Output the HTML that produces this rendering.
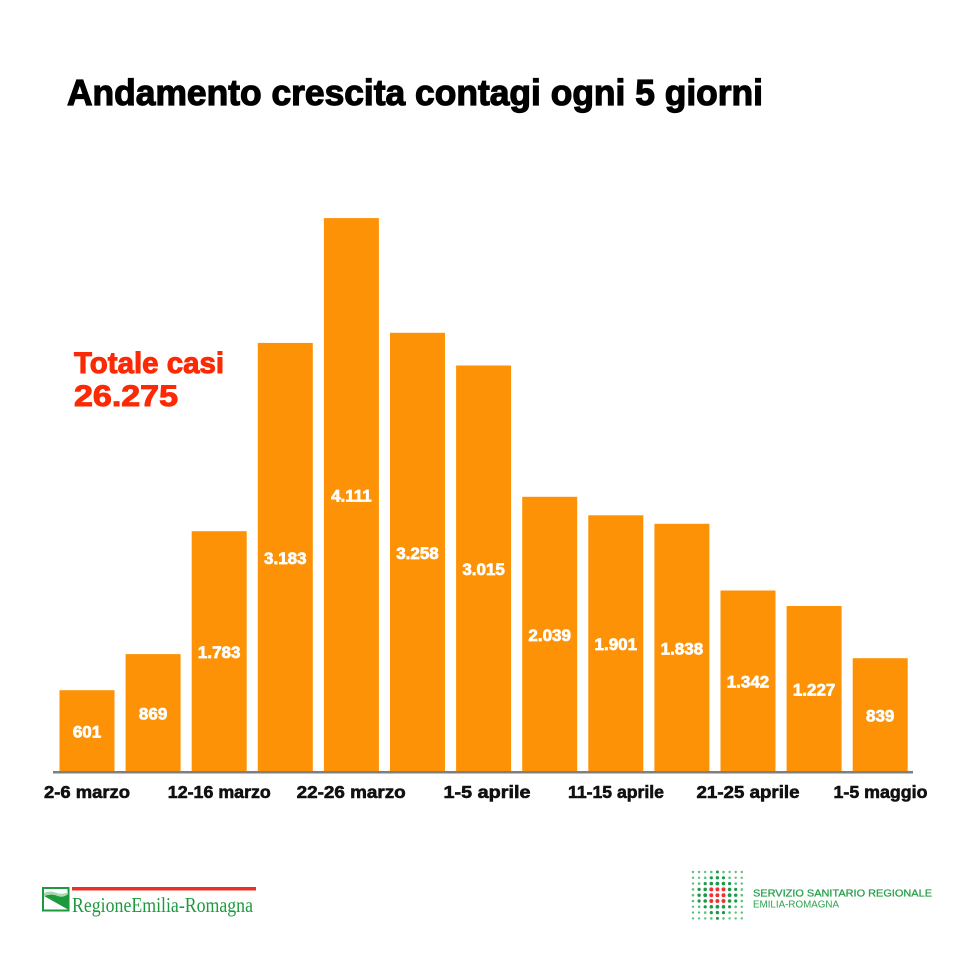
<!DOCTYPE html>
<html><head><meta charset="utf-8"><style>
html,body{margin:0;padding:0;background:#fff;}
svg{display:block;}
</style></head><body>
<svg width="960" height="960" viewBox="0 0 960 960" xmlns="http://www.w3.org/2000/svg">
<rect width="960" height="960" fill="#fff"/>
<text x="67" y="105" font-family="Liberation Sans, sans-serif" font-weight="bold" font-size="36" fill="#000" stroke="#000" stroke-width="1.2" textLength="696" lengthAdjust="spacingAndGlyphs">Andamento crescita contagi ogni 5 giorni</text>
<text x="74" y="373" font-family="Liberation Sans, sans-serif" font-weight="bold" font-size="30" fill="#fb2a05" stroke="#fb2a05" stroke-width="1" textLength="150" lengthAdjust="spacingAndGlyphs">Totale casi</text>
<text x="74" y="406" font-family="Liberation Sans, sans-serif" font-weight="bold" font-size="30" fill="#fb2a05" stroke="#fb2a05" stroke-width="1" textLength="104" lengthAdjust="spacingAndGlyphs">26.275</text>
<g fill="#fd9206">
<rect x="59.5" y="690.2" width="55" height="81.8"/>
<rect x="125.6" y="654.1" width="55" height="117.9"/>
<rect x="191.7" y="531.2" width="55" height="240.8"/>
<rect x="257.8" y="342.9" width="55" height="429.1"/>
<rect x="323.9" y="218.1" width="55" height="553.9"/>
<rect x="390" y="332.8" width="55" height="439.2"/>
<rect x="456.1" y="365.5" width="55" height="406.5"/>
<rect x="522.2" y="496.8" width="55" height="275.2"/>
<rect x="588.3" y="515.3" width="55" height="256.7"/>
<rect x="654.4" y="523.8" width="55" height="248.2"/>
<rect x="720.5" y="590.5" width="55" height="181.5"/>
<rect x="786.6" y="606" width="55" height="166"/>
<rect x="852.7" y="658.2" width="55" height="113.8"/>
</g>
<g font-family="Liberation Sans, sans-serif" font-weight="bold" font-size="17" fill="#fff" stroke="#fff" stroke-width="0.7" text-anchor="middle">
<text x="87" y="737.6">601</text>
<text x="153.1" y="719.5">869</text>
<text x="219.2" y="658">1.783</text>
<text x="285.3" y="563.9">3.183</text>
<text x="351.4" y="501.5">4.111</text>
<text x="417.5" y="558.9">3.258</text>
<text x="483.6" y="575.2">3.015</text>
<text x="549.7" y="640.9">2.039</text>
<text x="615.8" y="650.1">1.901</text>
<text x="681.9" y="654.4">1.838</text>
<text x="748" y="687.7">1.342</text>
<text x="814.1" y="695.5">1.227</text>
<text x="880.2" y="721.6">839</text>
</g>
<line x1="53" y1="772.2" x2="913" y2="772.2" stroke="#7f7f7f" stroke-width="2.5"/>
<g font-family="Liberation Sans, sans-serif" font-weight="bold" font-size="17.5" fill="#111" stroke="#111" stroke-width="0.6" text-anchor="middle">
<text x="87" y="798" textLength="86" lengthAdjust="spacingAndGlyphs">2-6 marzo</text>
<text x="219.3" y="798" textLength="103" lengthAdjust="spacingAndGlyphs">12-16 marzo</text>
<text x="351.2" y="798" textLength="109" lengthAdjust="spacingAndGlyphs">22-26 marzo</text>
<text x="487" y="798" textLength="87" lengthAdjust="spacingAndGlyphs">1-5 aprile</text>
<text x="616" y="798" textLength="96" lengthAdjust="spacingAndGlyphs">11-15 aprile</text>
<text x="748" y="798" textLength="103" lengthAdjust="spacingAndGlyphs">21-25 aprile</text>
<text x="880.5" y="798" textLength="94" lengthAdjust="spacingAndGlyphs">1-5 maggio</text>
</g>
<!-- Regione logo -->
<rect x="72" y="887" width="184" height="3.5" fill="#e8302a"/>
<rect x="43" y="888" width="25.5" height="22.5" fill="#fff" stroke="#1e9a3e" stroke-width="2"/>
<path d="M44 896 Q52 893 58 896 Q63 898 68 894 L68 909.5 Z" fill="#1e9a3e"/>
<path d="M44 896 Q52 893 58 896 Q63 898 68 894 L68 892 Q62 895 57 893 Q50 890 44 893 Z" fill="#a8d8b0"/>
<text x="72" y="912" font-family="Liberation Serif, serif" font-size="21" fill="#1e9a3e" textLength="181" lengthAdjust="spacingAndGlyphs">RegioneEmilia-Romagna</text>
<!-- SSR logo -->
<g fill="#5cbf7c">
<circle cx="693" cy="872" r="1.2"/><circle cx="699.1" cy="872" r="1.2"/><circle cx="705.2" cy="872" r="1.2"/><circle cx="711.3" cy="872" r="1.3"/><circle cx="717.4" cy="872" r="1.5" fill="#1a9a4a"/><circle cx="723.5" cy="872" r="1.3"/><circle cx="729.6" cy="872" r="1.2"/><circle cx="735.7" cy="872" r="1.2"/><circle cx="741.8" cy="872" r="1.2"/>
<circle cx="693" cy="877.8" r="1.2"/><circle cx="699.1" cy="877.8" r="1.2"/><circle cx="705.2" cy="877.8" r="1.3"/><circle cx="711.3" cy="877.8" r="1.6" fill="#1a9a4a"/><circle cx="717.4" cy="877.8" r="1.7" fill="#1a9a4a"/><circle cx="723.5" cy="877.8" r="1.6" fill="#1a9a4a"/><circle cx="729.6" cy="877.8" r="1.3"/><circle cx="735.7" cy="877.8" r="1.2"/><circle cx="741.8" cy="877.8" r="1.2"/>
<circle cx="693" cy="883.6" r="1.2"/><circle cx="699.1" cy="883.6" r="1.3"/><circle cx="705.2" cy="883.6" r="1.6" fill="#1a9a4a"/><circle cx="711.3" cy="883.6" r="1.8" fill="#1a9a4a"/><circle cx="717.4" cy="883.6" r="1.9" fill="#1a9a4a"/><circle cx="723.5" cy="883.6" r="1.8" fill="#1a9a4a"/><circle cx="729.6" cy="883.6" r="1.6" fill="#1a9a4a"/><circle cx="735.7" cy="883.6" r="1.3"/><circle cx="741.8" cy="883.6" r="1.2"/>
<circle cx="693" cy="889.4" r="1.3"/><circle cx="699.1" cy="889.4" r="1.6" fill="#1a9a4a"/><circle cx="705.2" cy="889.4" r="1.8" fill="#1a9a4a"/><circle cx="711.3" cy="889.4" r="2" fill="#ee3333"/><circle cx="717.4" cy="889.4" r="2" fill="#ee3333"/><circle cx="723.5" cy="889.4" r="2" fill="#ee3333"/><circle cx="729.6" cy="889.4" r="1.8" fill="#1a9a4a"/><circle cx="735.7" cy="889.4" r="1.6" fill="#1a9a4a"/><circle cx="741.8" cy="889.4" r="1.3"/>
<circle cx="693" cy="895.2" r="1.3"/><circle cx="699.1" cy="895.2" r="1.7" fill="#1a9a4a"/><circle cx="705.2" cy="895.2" r="1.9" fill="#1a9a4a"/><circle cx="711.3" cy="895.2" r="2" fill="#ee3333"/><circle cx="717.4" cy="895.2" r="2" fill="#ee3333"/><circle cx="723.5" cy="895.2" r="2" fill="#ee3333"/><circle cx="729.6" cy="895.2" r="1.9" fill="#1a9a4a"/><circle cx="735.7" cy="895.2" r="1.7" fill="#1a9a4a"/><circle cx="741.8" cy="895.2" r="1.3"/>
<circle cx="693" cy="901" r="1.3"/><circle cx="699.1" cy="901" r="1.6" fill="#1a9a4a"/><circle cx="705.2" cy="901" r="1.8" fill="#1a9a4a"/><circle cx="711.3" cy="901" r="2" fill="#ee3333"/><circle cx="717.4" cy="901" r="2" fill="#ee3333"/><circle cx="723.5" cy="901" r="2" fill="#ee3333"/><circle cx="729.6" cy="901" r="1.8" fill="#1a9a4a"/><circle cx="735.7" cy="901" r="1.6" fill="#1a9a4a"/><circle cx="741.8" cy="901" r="1.3"/>
<circle cx="693" cy="906.8" r="1.2"/><circle cx="699.1" cy="906.8" r="1.3"/><circle cx="705.2" cy="906.8" r="1.6" fill="#1a9a4a"/><circle cx="711.3" cy="906.8" r="1.8" fill="#1a9a4a"/><circle cx="717.4" cy="906.8" r="1.9" fill="#1a9a4a"/><circle cx="723.5" cy="906.8" r="1.8" fill="#1a9a4a"/><circle cx="729.6" cy="906.8" r="1.6" fill="#1a9a4a"/><circle cx="735.7" cy="906.8" r="1.3"/><circle cx="741.8" cy="906.8" r="1.2"/>
<circle cx="693" cy="912.6" r="1.2"/><circle cx="699.1" cy="912.6" r="1.2"/><circle cx="705.2" cy="912.6" r="1.3"/><circle cx="711.3" cy="912.6" r="1.6" fill="#1a9a4a"/><circle cx="717.4" cy="912.6" r="1.7" fill="#1a9a4a"/><circle cx="723.5" cy="912.6" r="1.6" fill="#1a9a4a"/><circle cx="729.6" cy="912.6" r="1.3"/><circle cx="735.7" cy="912.6" r="1.2"/><circle cx="741.8" cy="912.6" r="1.2"/>
<circle cx="693" cy="918.4" r="1.2"/><circle cx="699.1" cy="918.4" r="1.2"/><circle cx="705.2" cy="918.4" r="1.2"/><circle cx="711.3" cy="918.4" r="1.3"/><circle cx="717.4" cy="918.4" r="1.5" fill="#1a9a4a"/><circle cx="723.5" cy="918.4" r="1.3"/><circle cx="729.6" cy="918.4" r="1.2"/><circle cx="735.7" cy="918.4" r="1.2"/><circle cx="741.8" cy="918.4" r="1.2"/>
</g>
<text x="753" y="896.5" font-family="Liberation Sans, sans-serif" font-size="10.5" fill="#2ca24d" stroke="#2ca24d" stroke-width="0.3" textLength="179" lengthAdjust="spacingAndGlyphs">SERVIZIO SANITARIO REGIONALE</text>
<text x="753" y="907.5" font-family="Liberation Sans, sans-serif" font-size="10.5" fill="#2ca24d" textLength="86" lengthAdjust="spacingAndGlyphs">EMILIA-ROMAGNA</text>
</svg>
</body></html>
